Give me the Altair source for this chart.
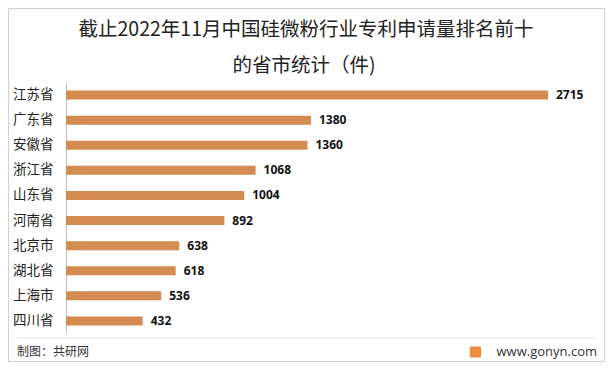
import altair as alt
import pandas as pd

provinces = ["江苏省", "广东省", "安徽省", "浙江省", "山东省", "河南省", "北京市", "湖北省", "上海市", "四川省"]
counts = [2715, 1380, 1360, 1068, 1004, 892, 638, 618, 536, 432]
title_lines = ["截止2022年11月中国硅微粉行业专利申请量排名前十", "的省市统计（件)"]
source_text = "制图：共研网"
site_text = "www.gonyn.com"

df = pd.DataFrame({"province": provinces, "count": counts})

W, H = 482, 251
FONT = "Noto Sans CJK SC"

base = alt.Chart(df)
bars = base.mark_bar(size=9, color="#D38B4F").encode(
    x=alt.X("count:Q", scale=alt.Scale(domain=[0, 2715], nice=False), axis=None),
    y=alt.Y("province:N", sort=None, title=None,
            axis=alt.Axis(domain=True, domainColor="#BFBFBF", ticks=False, grid=False,
                          labelFont=FONT, labelFontSize=13.5, labelColor="#222222",
                          labelPadding=13)),
)
labels = base.mark_text(align="left", baseline="middle", dx=8, font="Noto Sans",
                        fontSize=12, fontWeight="bold", color="#111111").encode(
    x=alt.X("count:Q"),
    y=alt.Y("province:N", sort=None),
    text=alt.Text("count:Q"),
)

one = pd.DataFrame({"a": [0]})

def txt(s, x, y, size, align="center", color="#222222", weight="normal", font=FONT):
    return alt.Chart(one).mark_text(align=align, baseline="middle", fontSize=size,
                                    font=font, fontWeight=weight, color=color).encode(
        x=alt.value(x), y=alt.value(y), text=alt.value(s))

t1 = txt(title_lines[0], 240, -52.5, 19.5)
t2 = txt(title_lines[1], 238, -16.5, 19.5)
src = txt(source_text, -49, 269.5, 12, align="left", color="#333333")
site = txt(site_text, 531, 269.5, 13, align="right", color="#333333", font="Open Sans")

sep = alt.Chart(one).mark_rule(color="#E3E3E3", strokeWidth=1).encode(
    x=alt.value(-49), x2=alt.value(529), y=alt.value(255.5))
logo = alt.Chart(one).mark_rect(color="#F08A3C", cornerRadius=1).encode(
    x=alt.value(404), x2=alt.value(415), y=alt.value(264), y2=alt.value(275))
border = alt.Chart(one).mark_rect(fillOpacity=0, stroke="#D0D0D0", strokeWidth=1).encode(
    x=alt.value(-57.5), x2=alt.value(538.5), y=alt.value(-74), y2=alt.value(279))

chart = alt.layer(border, bars, labels, t1, t2, sep, src, logo, site).properties(
    width=W, height=H,
    autosize=alt.AutoSizeParams(type="none"),
    padding={"left": 58, "top": 74.5, "right": 57, "bottom": 28.5},
    background="white",
).configure_view(stroke=None)

chart.save("out.html", embed_options={"renderer": "svg", "actions": False})
